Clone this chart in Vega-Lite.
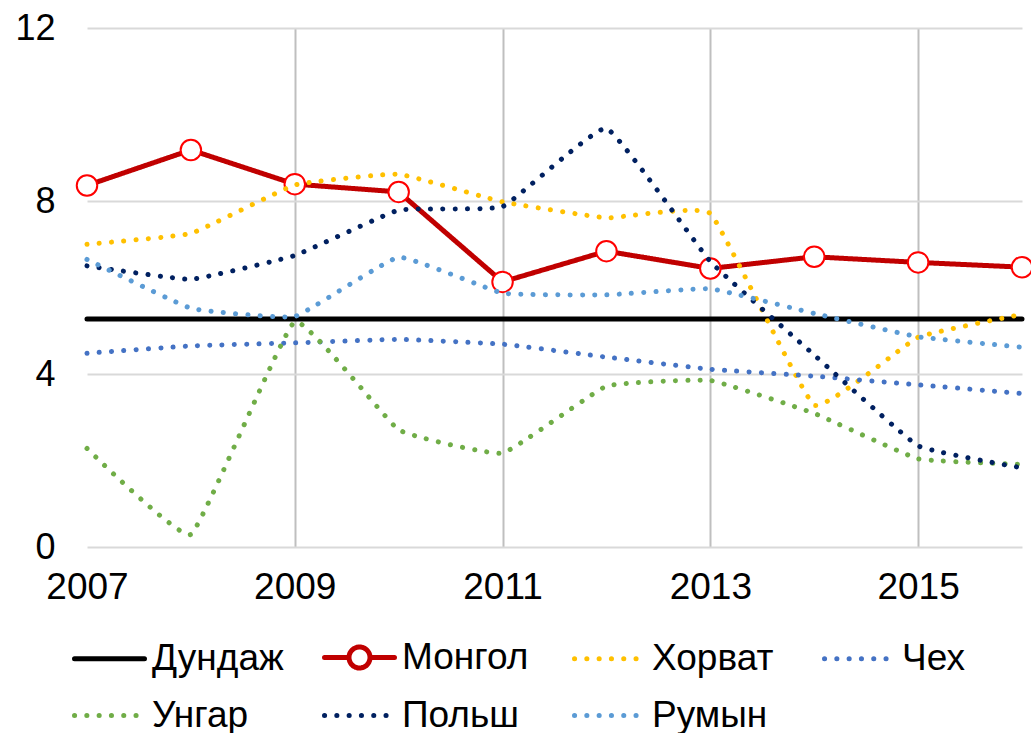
{
  "$schema": "https://vega.github.io/schema/vega-lite/v6.json",
  "width": 935,
  "height": 519,
  "autosize": "none",
  "padding": {"left": 87, "top": 28, "right": 9, "bottom": 186},
  "background": "white",
  "config": {
    "view": {"stroke": null},
    "font": "Liberation Sans",
    "axis": {"labelFont": "Liberation Sans", "labelColor": "black", "ticks": false, "domain": false, "title": null}
  },
  "data": {
    "values": [
      {"year": 2007, "country": "Дундаж", "value": 5.27},
      {"year": 2008, "country": "Дундаж", "value": 5.27},
      {"year": 2009, "country": "Дундаж", "value": 5.27},
      {"year": 2010, "country": "Дундаж", "value": 5.27},
      {"year": 2011, "country": "Дундаж", "value": 5.27},
      {"year": 2012, "country": "Дундаж", "value": 5.27},
      {"year": 2013, "country": "Дундаж", "value": 5.27},
      {"year": 2014, "country": "Дундаж", "value": 5.27},
      {"year": 2015, "country": "Дундаж", "value": 5.27},
      {"year": 2016, "country": "Дундаж", "value": 5.27},
      {"year": 2007, "country": "Монгол", "value": 8.36},
      {"year": 2008, "country": "Монгол", "value": 9.18},
      {"year": 2009, "country": "Монгол", "value": 8.39},
      {"year": 2010, "country": "Монгол", "value": 8.21},
      {"year": 2011, "country": "Монгол", "value": 6.13},
      {"year": 2012, "country": "Монгол", "value": 6.84},
      {"year": 2013, "country": "Монгол", "value": 6.44},
      {"year": 2014, "country": "Монгол", "value": 6.71},
      {"year": 2015, "country": "Монгол", "value": 6.58},
      {"year": 2016, "country": "Монгол", "value": 6.47},
      {"year": 2007, "country": "Хорват", "value": 7.0},
      {"year": 2008, "country": "Хорват", "value": 7.25},
      {"year": 2009, "country": "Хорват", "value": 8.37},
      {"year": 2010, "country": "Хорват", "value": 8.62},
      {"year": 2011, "country": "Хорват", "value": 7.98},
      {"year": 2012, "country": "Хорват", "value": 7.61},
      {"year": 2013, "country": "Хорват", "value": 7.71},
      {"year": 2014, "country": "Хорват", "value": 3.28},
      {"year": 2015, "country": "Хорват", "value": 4.85},
      {"year": 2016, "country": "Хорват", "value": 5.38},
      {"year": 2007, "country": "Чех", "value": 4.48},
      {"year": 2008, "country": "Чех", "value": 4.65},
      {"year": 2009, "country": "Чех", "value": 4.72},
      {"year": 2010, "country": "Чех", "value": 4.8},
      {"year": 2011, "country": "Чех", "value": 4.69},
      {"year": 2012, "country": "Чех", "value": 4.39},
      {"year": 2013, "country": "Чех", "value": 4.11},
      {"year": 2014, "country": "Чех", "value": 3.95},
      {"year": 2015, "country": "Чех", "value": 3.75},
      {"year": 2016, "country": "Чех", "value": 3.55},
      {"year": 2007, "country": "Унгар", "value": 2.28},
      {"year": 2008, "country": "Унгар", "value": 0.29},
      {"year": 2009, "country": "Унгар", "value": 5.21},
      {"year": 2010, "country": "Унгар", "value": 2.71},
      {"year": 2011, "country": "Унгар", "value": 2.17},
      {"year": 2012, "country": "Унгар", "value": 3.72},
      {"year": 2013, "country": "Унгар", "value": 3.85},
      {"year": 2014, "country": "Унгар", "value": 3.09},
      {"year": 2015, "country": "Унгар", "value": 2.04},
      {"year": 2016, "country": "Унгар", "value": 1.91},
      {"year": 2007, "country": "Польш", "value": 6.5},
      {"year": 2008, "country": "Польш", "value": 6.19},
      {"year": 2009, "country": "Польш", "value": 6.74},
      {"year": 2010, "country": "Польш", "value": 7.79},
      {"year": 2011, "country": "Польш", "value": 7.87},
      {"year": 2012, "country": "Польш", "value": 9.68},
      {"year": 2013, "country": "Польш", "value": 6.6},
      {"year": 2014, "country": "Польш", "value": 4.44},
      {"year": 2015, "country": "Польш", "value": 2.34},
      {"year": 2016, "country": "Польш", "value": 1.83},
      {"year": 2007, "country": "Румын", "value": 6.65},
      {"year": 2008, "country": "Румын", "value": 5.52},
      {"year": 2009, "country": "Румын", "value": 5.33},
      {"year": 2010, "country": "Румын", "value": 6.7},
      {"year": 2011, "country": "Румын", "value": 5.87},
      {"year": 2012, "country": "Румын", "value": 5.83},
      {"year": 2013, "country": "Румын", "value": 5.97},
      {"year": 2014, "country": "Румын", "value": 5.4},
      {"year": 2015, "country": "Румын", "value": 4.86},
      {"year": 2016, "country": "Румын", "value": 4.62}
    ]
  },
  "encoding": {
    "x": {
      "field": "year", "type": "quantitative",
      "scale": {"domain": [2007, 2016], "nice": false, "zero": false},
      "axis": {
        "values": [2007, 2009, 2011, 2013, 2015], "format": "d",
        "labelFontSize": 37, "labelPadding": 22, "labelFlush": false,
        "grid": true, "gridColor": "#bfbfbf", "gridWidth": 2,
        "gridOpacity": {"condition": {"test": "datum.value === 2007", "value": 0}, "value": 1}
      }
    },
    "y": {
      "field": "value", "type": "quantitative",
      "scale": {"domain": [0, 12], "nice": false},
      "axis": {"values": [0, 4, 8, 12], "labelFontSize": 36, "labelPadding": 32, "grid": true, "gridColor": "#d9d9d9", "gridWidth": 2}
    }
  },
  "layer": [
    {
      "transform": [{"filter": "datum.country === 'Дундаж' || datum.country === 'Монгол'"}],
      "mark": {"type": "line", "strokeWidth": 5, "strokeCap": "round", "strokeJoin": "round"},
      "encoding": {
        "color": {"field": "country", "type": "nominal", "title": null,
          "scale": {"domain": ["Дундаж", "Монгол", "Хорват", "Чех", "Унгар", "Польш", "Румын"],
                    "range": ["#000000", "#C00000", "#FFC000", "#4472C4", "#70AD47", "#002060", "#5B9BD5"]},
          "legend": {
            "orient": "none", "legendX": -15, "legendY": 592,
            "direction": "horizontal", "columns": 4, "gridAlign": "all",
            "symbolType": "stroke", "symbolSize": 4900, "symbolStrokeWidth": 5,
            "labelFont": "Liberation Sans", "labelFontSize": 37, "labelColor": "black",
            "labelOffset": 5, "columnPadding": 30, "rowPadding": -10, "labelLimit": 400,
            "encode": {"symbols": {"update": {
              "strokeCap": {"value": "round"},
              "shape": {"signal": "datum.label === 'Монгол' ? 'M-1,0H-0.3A0.3,0.3,0,1,1,0.3,0A0.3,0.3,0,1,1,-0.3,0M0.3,0H1' : 'stroke'"},
              "fill": {"signal": "datum.label === 'Монгол' ? 'white' : 'transparent'"},
              "fillOpacity": {"value": 1}
            }}}
          }
        },
        "strokeDash": {"field": "country", "type": "nominal", "title": null,
          "scale": {"domain": ["Дундаж", "Монгол", "Хорват", "Чех", "Унгар", "Польш", "Румын"],
                    "range": [[1, 0], [1, 0], [0.1, 12.2], [0.1, 12.2], [0.1, 12.2], [0.1, 12.2], [0.1, 12.2]]}
        }
      }
    },
    {
      "transform": [{"filter": "datum.country === 'Монгол'"}],
      "mark": {"type": "point", "shape": "circle", "filled": true, "fill": "white", "stroke": "#FF0000", "strokeWidth": 2, "size": 420, "opacity": 1}
    },
    {
      "transform": [{"filter": "datum.country !== 'Дундаж' && datum.country !== 'Монгол'"}],
      "mark": {"type": "line", "strokeWidth": 5, "strokeCap": "round", "interpolate": "cardinal", "tension": 0.7},
      "encoding": {
        "color": {"field": "country", "type": "nominal", "title": null},
        "strokeDash": {"field": "country", "type": "nominal", "title": null}
      }
    }
  ]
}
